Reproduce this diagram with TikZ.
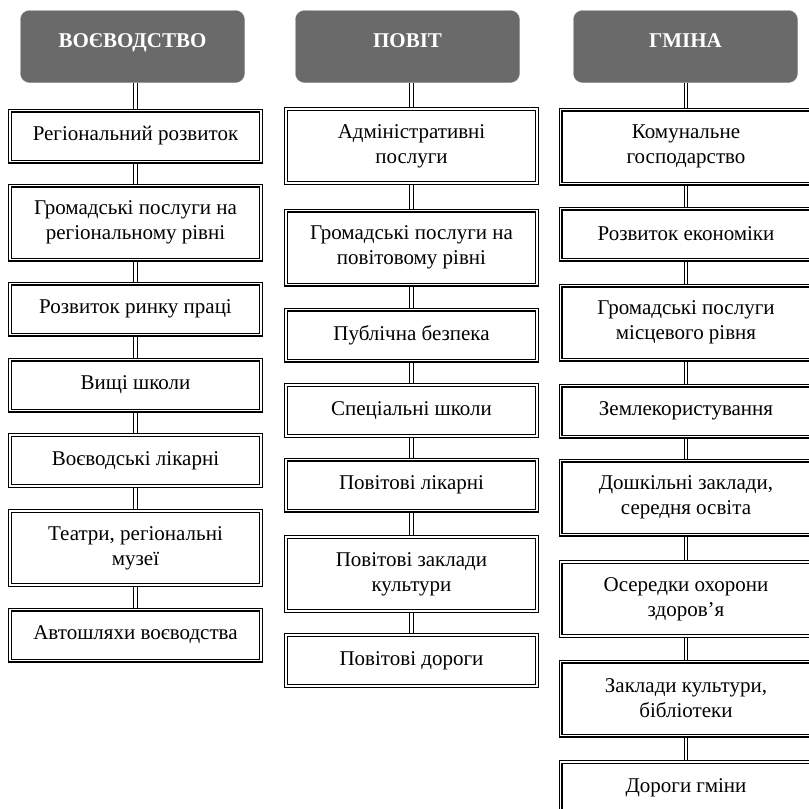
\documentclass[tikz,border=0pt]{standalone}
\usepackage{fontspec}
\setmainfont{Liberation Serif}
\usetikzlibrary{backgrounds}
\definecolor{hdrgray}{RGB}{106,106,106}

\begin{document}
\begin{tikzpicture}[x=1pt,y=-1pt,
    hdr/.style={rectangle,rounded corners=9pt,fill=hdrgray,draw=hdrgray!75,
      minimum width=224pt,minimum height=72pt,text=white,
      text height=15pt,text depth=13pt,
      font=\fontsize{21}{25}\selectfont\bfseries},
    box/.style={rectangle,draw=black,line width=1.1pt,double=white,
      double distance=1.8pt,fill=white,minimum width=251pt,
      minimum height=51pt,align=center,
      font=\fontsize{21}{25}\selectfont},
    tall/.style={box,minimum height=74pt},
    link/.style={draw=black,line width=0.9pt,double=white,
      double distance=2.6pt}]
        \useasboundingbox (0,0) rectangle (809,809);
        \clip (0,0) rectangle (809,809);

        % voevodstvo
        \node[hdr] (hv) at (132.5,46.5) {ВОЄВОДСТВО};
        \node[box]  (v1) at (135.5,136) {Регіональний розвиток};
        \node[tall] (v2) at (135.5,222.5) {Громадські послуги на\\регіональному рівні};
        \node[box]  (v3) at (135.5,309) {Розвиток ринку праці};
        \node[box]  (v4) at (135.5,385) {Вищі школи};
        \node[box]  (v5) at (135.5,460.5) {Воєводські лікарні};
        \node[tall] (v6) at (135.5,548) {Театри, регіональні\\музеї};
        \node[box]  (v7) at (135.5,635) {Автошляхи воєводства};

        % povit
        \node[hdr] (hp) at (407.5,46.5) {ПОВІТ};
        \node[tall] (p1) at (411.5,146) {Адміністративні\\послуги};
        \node[tall] (p2) at (411.5,247.5) {Громадські послуги на\\повітовому рівні};
        \node[box]  (p3) at (411.5,335) {Публічна безпека};
        \node[box]  (p4) at (411.5,410.5) {Спеціальні школи};
        \node[box]  (p5) at (411.5,485) {Повітові лікарні};
        \node[tall] (p6) at (411.5,574) {Повітові заклади\\культури};
        \node[box]  (p7) at (411.5,660.5) {Повітові дороги};

        % gmina
        \node[hdr] (hg) at (685.5,46.5) {ГМІНА};
        \node[tall] (g1) at (686,146.5) {Комунальне\\господарство};
        \node[box]  (g2) at (686,234) {Розвиток економіки};
        \node[tall] (g3) at (686,322.5) {Громадські послуги\\місцевого рівня};
        \node[box]  (g4) at (686,411) {Землекористування};
        \node[tall] (g5) at (686,497.5) {Дошкільні заклади,\\середня освіта};
        \node[tall] (g6) at (686,599) {Осередки охорони\\здоров’я};
        \node[tall] (g7) at (686,698.5) {Заклади культури,\\бібліотеки};
        \node[box]  (g8) at (686,787.5) {Дороги гміни};

        \begin{scope}[on background layer]
        \draw[link] (hv.south -| v1.north)--(v1.north) (v1.south)--(v2.north)
          (v2.south)--(v3.north) (v3.south)--(v4.north) (v4.south)--(v5.north)
          (v5.south)--(v6.north) (v6.south)--(v7.north);
        \draw[link] (hp.south -| p1.north)--(p1.north) (p1.south)--(p2.north)
          (p2.south)--(p3.north) (p3.south)--(p4.north) (p4.south)--(p5.north)
          (p5.south)--(p6.north) (p6.south)--(p7.north);
        \draw[link] (hg.south -| g1.north)--(g1.north) (g1.south)--(g2.north)
          (g2.south)--(g3.north) (g3.south)--(g4.north) (g4.south)--(g5.north)
          (g5.south)--(g6.north) (g6.south)--(g7.north) (g7.south)--(g8.north);
        \end{scope}
\end{tikzpicture}
\end{document}
